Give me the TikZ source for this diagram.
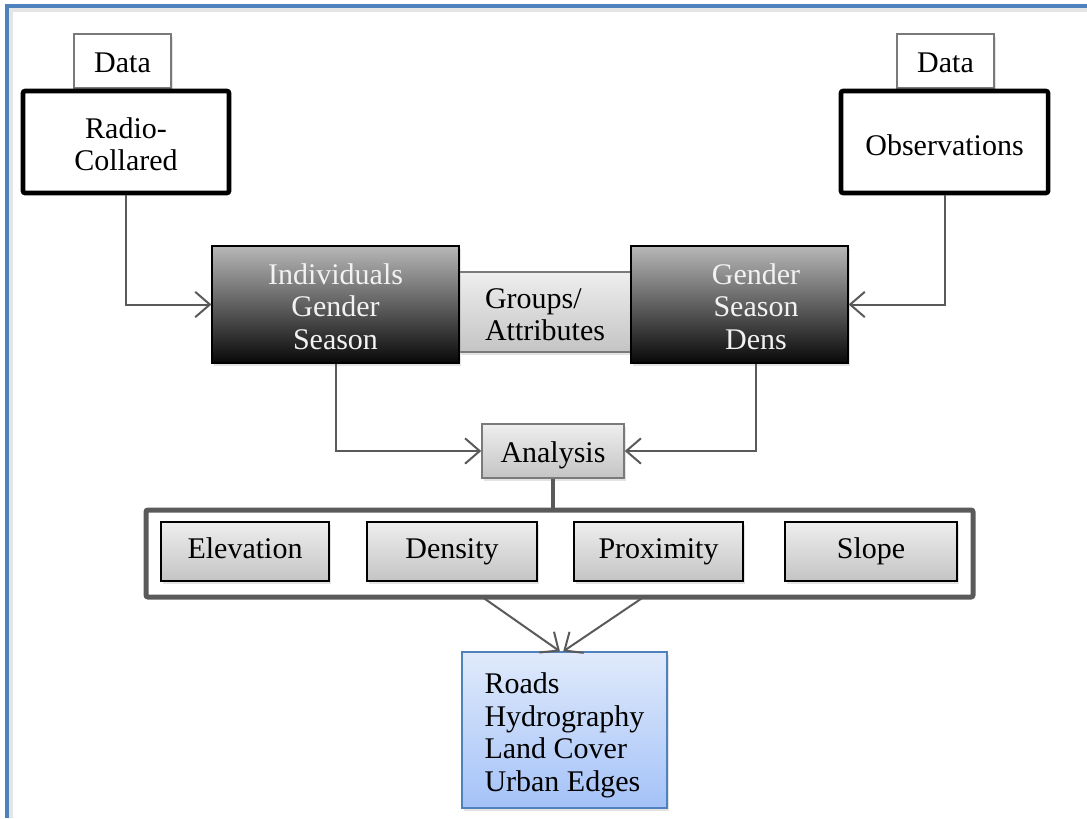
\documentclass[tikz,border=0pt]{standalone}
\usepackage{fontspec}
\setmainfont{Liberation Serif}
\usetikzlibrary{arrows.meta,shadows,calc}
\definecolor{lnc}{HTML}{5A5A5A}
\definecolor{framec}{HTML}{4F81BD}
\definecolor{datac}{HTML}{7A7A7A}
\definecolor{darktop}{HTML}{B8B8B8}
\definecolor{darkbot}{HTML}{080808}
\definecolor{lighttop}{HTML}{EEEEEE}
\definecolor{lightbot}{HTML}{C4C4C4}
\definecolor{bluetop}{HTML}{E0EAFB}
\definecolor{bluebot}{HTML}{A4C2F8}
\definecolor{blueedge}{HTML}{4F81BD}
\definecolor{whitetext}{HTML}{F2F2F2}
\newcommand\topgap{\rule{0pt}{26pt}}
\begin{document}
\begin{tikzpicture}[x=0.75pt,y=-0.75pt,
  every node/.style={font=\fontsize{22.5}{24.5}\selectfont, inner sep=0pt, align=center},
  oneline/.style={text height=15.5pt, text depth=5pt},
  onelow/.style={text height=18.5pt, text depth=1.5pt},
  softshadow/.style={drop shadow={opacity=0.22, shadow xshift=1.8pt, shadow yshift=-2.2pt}},
  databox/.style={draw=datac, line width=1.1pt, fill=white, softshadow, onelow},
  sourcebox/.style={draw=black, line width=3.4pt, rounded corners=1.5pt, fill=white},
  darkbox/.style={draw=black, line width=0.9pt, top color=darktop, bottom color=darkbot, text=whitetext, softshadow},
  lightbox/.style={draw=black, line width=0.9pt, top color=lighttop, bottom color=lightbot, softshadow, oneline},
  graybox/.style={draw=datac, line width=1.1pt, top color=lighttop, bottom color=lightbot, softshadow},
  groupframe/.style={draw=lnc, line width=3.75pt, rounded corners=1.5pt},
  bluebox/.style={draw=blueedge, line width=0.9pt, top color=bluetop, bottom color=bluebot, softshadow},
  conn/.style={draw=lnc, line width=1.5pt, -{Straight Barb[length=11pt, width=19pt, line width=1.5pt]}},
  stem/.style={draw=lnc, line width=3pt}
]
\useasboundingbox (0,0) rectangle (1087,818);
% outer frame (top and left edges)
\draw[black!10, line width=3pt] (11,818) -- (11,10) -- (1087,10);
\draw[framec, line width=2.4pt] (7,818) -- (7,6) -- (1087,6);

% data sources
\node[databox, minimum width=72.75pt, minimum height=40.5pt] (dataL) at (122.5,61) {Data};
\node[databox, minimum width=72.75pt, minimum height=40.5pt] (dataR) at (945.5,61) {Data};
\node[sourcebox, minimum width=154.5pt, minimum height=76.5pt] (radio) at (126,142) {\begin{tabular}{@{}c@{}}\topgap Radio-\\Collared\end{tabular}};
\node[sourcebox, minimum width=155.25pt, minimum height=76.5pt, text height=21pt, text depth=1pt] (obs) at (944.5,142) {Observations};

% groups / attributes
\node[graybox, minimum width=129pt, minimum height=60pt] (groups) at (545,312) {\begin{tabular}{@{}l@{}}\topgap Groups/\\Attributes\end{tabular}};
\node[darkbox, minimum width=185.25pt, minimum height=87.75pt] (indiv) at (335.5,304.5) {\begin{tabular}{@{}c@{}}\topgap Individuals\\Gender\\Season\end{tabular}};
\node[darkbox, minimum width=162.75pt, minimum height=87.75pt] (gender) at (739.5,304.5) {\hspace*{24.75pt}\begin{tabular}{@{}c@{}}\topgap Gender\\Season\\Dens\end{tabular}};

% analysis
\node[graybox, minimum width=106.5pt, minimum height=40.5pt, onelow] (analysis) at (553,451) {Analysis};

% analysis methods
\node[groupframe, minimum width=620.25pt, minimum height=65.25pt] (frame) at (559.5,553.5) {};
\node[lightbox, minimum width=126pt, minimum height=44.25pt] (elev) at (245,551.5) {Elevation};
\node[lightbox, minimum width=127.5pt, minimum height=44.25pt] (dens) at (452,551.5) {Density};
\node[lightbox, minimum width=126.75pt, minimum height=44.25pt] (prox) at (658.5,551.5) {Proximity};
\node[lightbox, minimum width=129pt, minimum height=44.25pt] (slope) at (871,551.5) {Slope};

% layers
\node[bluebox, minimum width=153.75pt, minimum height=117pt] (layers) at (564.5,730) {\begin{tabular}{@{}l@{}}\topgap Roads\\Hydrography\\Land Cover\\Urban Edges\end{tabular}};

% connectors
\draw[conn] (radio.south) |- (indiv.west);
\draw[conn] (obs.south) |- (gender.east);
\draw[conn] (indiv.south) |- (analysis.west);
\draw[conn] ([xshift=12.4pt]gender.south) |- (analysis.east);
\draw[stem] (analysis.south) -- ([yshift=-1.5pt]analysis.south |- frame.north);
\draw[conn] ([xshift=-57.4pt,yshift=1.5pt]frame.south) -- ([xshift=-3.4pt]layers.north);
\draw[conn] ([xshift=62.6pt,yshift=1.5pt]frame.south) -- ([xshift=-1pt]layers.north);
\end{tikzpicture}
\end{document}
